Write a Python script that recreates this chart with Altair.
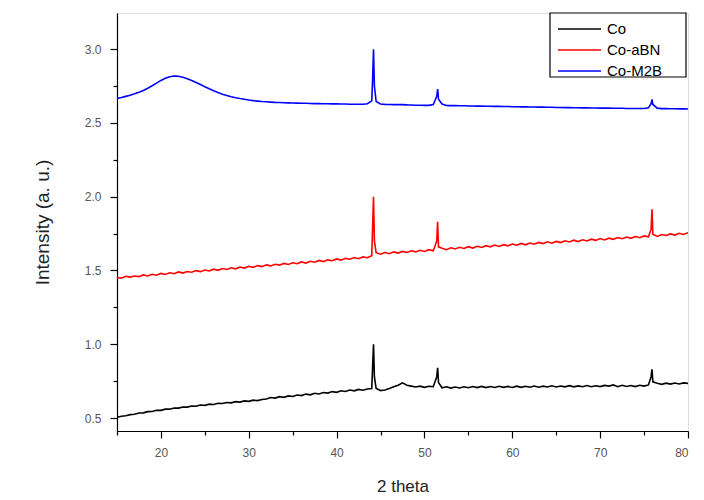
import altair as alt
import pandas as pd

# ---------------- data ----------------
series_names = ["Co", "Co-aBN", "Co-M2B"]
series_colors = ["#000000", "#ff0000", "#0000ff"]

x_a = [15.0, 15.5, 16.0, 16.5, 17.0, 17.5, 18.0, 18.5, 19.0, 19.5,
       20.0, 20.5, 21.0, 21.5, 22.0, 22.5, 23.0, 23.5, 24.0, 24.5,
       25.0, 25.5, 26.0, 26.5, 27.0, 27.5, 28.0, 28.5, 29.0, 29.5,
       30.0, 30.5, 31.0, 31.5, 32.0, 32.5, 33.0, 33.5, 34.0, 34.5,
       35.0, 35.5, 36.0, 36.5, 37.0, 37.5, 38.0, 38.5, 39.0, 39.5,
       40.0, 40.5, 41.0, 41.5, 42.0, 42.5, 43.0, 43.5, 44.0]
x_b = [44.1, 44.2, 44.3]
x_c = [44.5, 45.0, 45.5, 46.0, 46.5, 47.0, 47.5, 48.0, 48.5, 49.0,
       49.5, 50.0, 50.5, 51.0]
x_d = [51.4, 51.5, 51.6]
x_e = [52.0, 52.5, 53.0, 53.5, 54.0, 54.5, 55.0, 55.5, 56.0, 56.5,
       57.0, 57.5, 58.0, 58.5, 59.0, 59.5, 60.0, 60.5, 61.0, 61.5,
       62.0, 62.5, 63.0, 63.5, 64.0, 64.5, 65.0, 65.5, 66.0, 66.5,
       67.0, 67.5, 68.0, 68.5, 69.0, 69.5, 70.0, 70.5, 71.0, 71.5,
       72.0, 72.5, 73.0, 73.5, 74.0, 74.5, 75.0, 75.5]
x_f = [75.8, 75.9]
x_g = [76.0, 76.5, 77.0, 77.5, 78.0, 78.5, 79.0, 79.5, 80.0]

co = [0.505, 0.512, 0.515, 0.523, 0.525, 0.534, 0.535, 0.543, 0.544, 0.552,
      0.552, 0.560, 0.560, 0.568, 0.567, 0.575, 0.574, 0.581, 0.580, 0.588,
      0.586, 0.594, 0.592, 0.600, 0.598, 0.605, 0.603, 0.611, 0.608, 0.616,
      0.613, 0.621, 0.618, 0.626, 0.629, 0.639, 0.635, 0.645, 0.640, 0.650,
      0.646, 0.656, 0.652, 0.662, 0.657, 0.668, 0.663, 0.673, 0.669, 0.679,
      0.674, 0.685, 0.680, 0.690, 0.684, 0.694, 0.688, 0.697, 0.700,
      0.85, 1.00, 0.78,
      0.700, 0.686, 0.690, 0.700, 0.712, 0.722, 0.738, 0.722, 0.716, 0.710,
      0.716, 0.708, 0.715, 0.712,
      0.78, 0.84, 0.74,
      0.705, 0.712, 0.703, 0.710, 0.704, 0.712, 0.705, 0.713, 0.706, 0.714,
      0.706, 0.713, 0.707, 0.715, 0.708, 0.714, 0.707, 0.716, 0.708, 0.715,
      0.709, 0.717, 0.709, 0.716, 0.710, 0.718, 0.710, 0.717, 0.711, 0.719,
      0.711, 0.718, 0.712, 0.720, 0.712, 0.719, 0.713, 0.721, 0.716, 0.724,
      0.712, 0.722, 0.714, 0.720, 0.713, 0.722, 0.716, 0.724,
      0.78, 0.83,
      0.745, 0.735, 0.728, 0.736, 0.730, 0.737, 0.731, 0.738, 0.735]

co_abn = [1.452, 1.448, 1.461, 1.455, 1.462, 1.458, 1.470, 1.463, 1.474, 1.468,
          1.480, 1.473, 1.484, 1.478, 1.490, 1.482, 1.493, 1.488, 1.499, 1.492,
          1.503, 1.497, 1.509, 1.501, 1.513, 1.507, 1.518, 1.511, 1.523, 1.516,
          1.528, 1.521, 1.533, 1.526, 1.538, 1.531, 1.542, 1.536, 1.548, 1.541,
          1.552, 1.546, 1.558, 1.550, 1.562, 1.556, 1.568, 1.560, 1.572, 1.566,
          1.578, 1.570, 1.582, 1.576, 1.588, 1.580, 1.592, 1.586, 1.600,
          1.80, 2.00, 1.70,
          1.620, 1.610, 1.622, 1.614, 1.626, 1.618, 1.629, 1.622, 1.633, 1.626,
          1.637, 1.629, 1.641, 1.634,
          1.70, 1.83, 1.66,
          1.650, 1.641, 1.654, 1.646, 1.657, 1.649, 1.661, 1.652, 1.664, 1.656,
          1.668, 1.660, 1.672, 1.663, 1.675, 1.667, 1.679, 1.671, 1.683, 1.674,
          1.686, 1.678, 1.690, 1.682, 1.694, 1.685, 1.697, 1.689, 1.701, 1.693,
          1.705, 1.696, 1.708, 1.700, 1.712, 1.704, 1.716, 1.707, 1.719, 1.711,
          1.723, 1.715, 1.727, 1.718, 1.730, 1.722, 1.734, 1.728,
          1.78, 1.915,
          1.745, 1.731, 1.744, 1.737, 1.748, 1.740, 1.752, 1.744, 1.756]

co_m2b = [2.665, 2.672, 2.680, 2.688, 2.697, 2.708, 2.720, 2.735, 2.752, 2.770,
          2.788, 2.803, 2.813, 2.818, 2.816, 2.810, 2.800, 2.788, 2.774, 2.760,
          2.745, 2.731, 2.718, 2.706, 2.695, 2.686, 2.678, 2.671, 2.665, 2.660,
          2.655, 2.651, 2.648, 2.645, 2.643, 2.641, 2.639, 2.638, 2.637, 2.636,
          2.635, 2.634, 2.633, 2.633, 2.632, 2.631, 2.631, 2.630, 2.630, 2.629,
          2.629, 2.628, 2.628, 2.627, 2.627, 2.627, 2.627, 2.630, 2.650,
          2.80, 3.00, 2.75,
          2.645, 2.628, 2.626, 2.625, 2.624, 2.625, 2.624, 2.622, 2.621, 2.620,
          2.620, 2.619, 2.619, 2.625,
          2.68, 2.73, 2.66,
          2.628, 2.618, 2.617, 2.617, 2.616, 2.616, 2.615, 2.615, 2.614, 2.614,
          2.613, 2.613, 2.612, 2.612, 2.611, 2.611, 2.610, 2.610, 2.609, 2.609,
          2.608, 2.608, 2.607, 2.607, 2.606, 2.606, 2.605, 2.605, 2.604, 2.604,
          2.603, 2.603, 2.602, 2.602, 2.601, 2.601, 2.600, 2.600, 2.600, 2.599,
          2.599, 2.599, 2.598, 2.598, 2.598, 2.598, 2.598, 2.602,
          2.63, 2.66,
          2.625, 2.600, 2.597, 2.597, 2.596, 2.596, 2.595, 2.595, 2.594]

x_ticks = [15, 20, 25, 30, 35, 40, 45, 50, 55, 60, 65, 70, 75, 80]
y_ticks = [0.5, 0.75, 1.0, 1.25, 1.5, 1.75, 2.0, 2.25, 2.5, 2.75, 3.0]
x_domain = [15, 80]
y_domain = [0.412, 3.245]

# ---------------- table ----------------
x_all = x_a + x_b + x_c + x_d + x_e + x_f + x_g
frames = []
for name, ys in zip(series_names, [co, co_abn, co_m2b]):
    assert len(ys) == len(x_all), (name, len(ys), len(x_all))
    frames.append(pd.DataFrame({"theta": x_all, "intensity": ys, "sample": name}))
df = pd.concat(frames, ignore_index=True)

FONT = "Liberation Sans"
W, H = 571, 418

x_axis = alt.Axis(
    values=x_ticks, title="2 theta",
    labelExpr="datum.value % 10 == 0 ? datum.label : ''",
    tickSize={"condition": {"test": "datum.value % 10 == 0", "value": 7}, "value": 4},
    labelPadding=9, labelFontSize=12, labelColor="#555555", labelFont=FONT,
    titleFontSize=17, titleFontWeight="normal", titleColor="#222222", titleFont=FONT,
    titleY=55, titleBaseline="middle",
    grid=False, domainColor="black", tickColor="black", domainWidth=1.2, tickWidth=1.2,
)
y_axis = alt.Axis(
    values=y_ticks, title="Intensity (a. u.)",
    labelExpr="round(datum.value * 4) % 2 == 0 ? format(datum.value, '.1f') : ''",
    tickSize={"condition": {"test": "round(datum.value * 4) % 2 == 0", "value": 7}, "value": 4},
    labelPadding=9, labelFontSize=12, labelColor="#555555", labelFont=FONT,
    titleFontSize=19, titleFontWeight="normal", titleColor="#222222", titleFont=FONT,
    titleX=-75, titleBaseline="middle",
    grid=False, domainColor="black", tickColor="black", domainWidth=1.2, tickWidth=1.2,
)

lines = alt.Chart(df).mark_line(strokeWidth=1.6, clip=True).encode(
    x=alt.X("theta:Q", scale=alt.Scale(domain=x_domain, nice=False, zero=False), axis=x_axis),
    y=alt.Y("intensity:Q", scale=alt.Scale(domain=y_domain, nice=False, zero=False), axis=y_axis),
    color=alt.Color(
        "sample:N",
        scale=alt.Scale(domain=series_names, range=series_colors),
        legend=alt.Legend(
            orient="none", legendX=440, legendY=5.5, title=None,
            symbolType="stroke", symbolSize=1849, symbolStrokeWidth=1.3,
            labelFontSize=15, labelFont=FONT, labelColor="black",
            clipHeight=21, rowPadding=0, padding=0, labelOffset=5,
        ),
    ),
    detail="sample:N",
)

legend_box = alt.Chart(pd.DataFrame({"k": [0]})).mark_rect(
    fill="white", stroke="black", strokeWidth=1.2
).encode(
    x=alt.value(433), x2=alt.value(569), y=alt.value(0), y2=alt.value(64)
)

chart = alt.layer(legend_box, lines).properties(
    width=W, height=H, autosize="none",
    padding={"left": 117, "top": 13, "right": 16, "bottom": 69},
).configure_view(stroke="black", strokeWidth=1.2).configure(background="white")

chart.save("out.html", embed_options={"renderer": "svg", "actions": False})
